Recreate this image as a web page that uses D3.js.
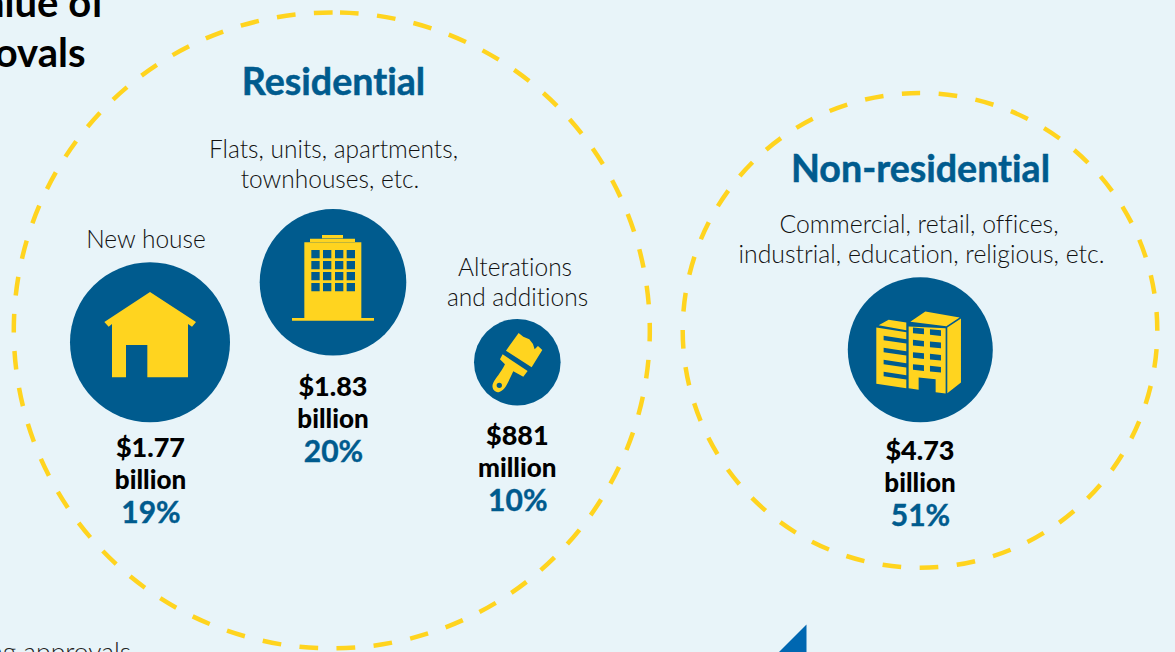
<!DOCTYPE html>
<html>
<head>
<meta charset="utf-8">
<script src="https://cdn.jsdelivr.net/npm/d3@7"></script>
<style>
	html, body { margin: 0; padding: 0; background: #E8F4F9; overflow: hidden; }
	text { font-family: Lato, "Noto Sans", sans-serif; font-variant-ligatures: none; }
</style>
</head>
<body>
<script>
const BLUE = '#005B8E'
const YELLOW = '#FFD41F'

// values
const categories = ['New house', 'Residential flats', 'Alterations and additions', 'Non-residential']
const amounts = ['$1.77', '$1.83', '$881', '$4.73']
const units = ['billion', 'billion', 'million', 'billion']
const shares = [19, 20, 10, 51]

// labels
const groupTitles = ['Residential', 'Non-residential']
const descriptions = [
	['New house'],
	['Flats, units, apartments,', 'townhouses, etc.'],
	['Alterations', 'and additions'],
	['Commercial, retail, offices,', 'industrial, education, religious, etc.'],
]

// layout, one entry per category
const bubbleX = [150, 333, 517.3, 920.3]
const bubbleY = [342.3, 282.3, 362.3, 349.8]
const bubbleR = [80, 73.3, 43.3, 72.5]
const descX = [[146], [333.5, 330], [515, 517.5], [919, 921.5]]
const descY = [248, 158, 276, 232.5]
const amountX = [150.5, 333, 517.3, 920]
const amountY = [457, 396, 445, 460]

// the left ring has a short gap at the top where its path closes
const ringCx = [331.8, 920]
const ringR = [318, 237.3]
const ringStart = [1.48, 0]
const ringDash = ['18.7 18.49', '18.7 18.57']
const ringOffset = [0, -18.7]
const titleX = [333.5, 920.5]
const titleY = [95, 182]

const svg = d3.select('body').append('svg')
	.attr('width', 1175)
	.attr('height', 652)

// dashed rings
svg.selectAll('.ring')
	.data(ringR)
	.enter()
		.append('circle')
		.attr('class', 'ring')
		.attr('transform', (d, i) => `rotate(${ringStart[i] - 90} ${ringCx[i]} 330.4)`)
		.attr('cx', (d, i) => ringCx[i])
		.attr('cy', 330.4)
		.attr('r', d => d)
		.attr('fill', 'none')
		.attr('stroke', YELLOW)
		.attr('stroke-width', 4.5)
		.attr('stroke-dasharray', (d, i) => ringDash[i])
		.attr('stroke-dashoffset', (d, i) => ringOffset[i])

svg.selectAll('.group-title')
	.data(groupTitles)
	.enter()
		.append('text')
		.attr('class', 'group-title')
		.attr('x', (d, i) => titleX[i])
		.attr('y', (d, i) => titleY[i])
		.attr('text-anchor', 'middle')
		.attr('fill', BLUE)
		.attr('stroke', BLUE)
		.attr('stroke-width', 0.5)
		.style('font-size', '37.6px')
		.style('font-weight', 700)
		.text(d => d)

// the icons are traced in zoomed pixels, 3x the page
const poly = pts => 'M' + pts.map(p => p.join(',')).join('L') + 'Z'

function rects(xs, ys, w, h) {
	let out = ''
	xs.forEach(x => ys.forEach(y => {
		out += poly([[x, y], [x + w, y], [x + w, y + h], [x, y + h]])
	}))
	return out
}

function skewRects(xs, ys, w, h, slope) {
	let out = ''
	xs.forEach(x => ys.forEach(y => {
		let yy = y + (x - 218) * slope
		out += poly([[x, yy], [x + w, yy + w * slope], [x + w, yy + w * slope + h], [x, yy + h]])
	}))
	return out
}

const icons = [
	{
		cx: 270, cy: 427,
		d: poly([[270, 276], [408, 366], [396, 380], [384, 372], [384, 532], [262, 532], [262, 435], [198, 435], [198, 532], [156, 532], [156, 372], [146, 380], [133, 366]]),
	},
	{
		cx: 819, cy: 247,
		d: poly([[786, 105], [849, 105], [849, 115], [786, 115]])
			+ poly([[750, 116], [885, 116], [885, 126], [750, 126]])
			+ poly([[696, 354], [789, 354], [789, 309], [849, 309], [849, 354], [942, 354], [942, 362], [696, 362]])
			+ poly([[733, 127], [904, 127], [904, 354], [849, 354], [849, 309], [789, 309], [789, 354], [733, 354]])
			+ rects([754, 789, 825, 860], [150, 183, 216, 249], 25, 25),
	},
	{
		cx: 172, cy: 157,
		d: poly([[176, 69], [190, 80], [208, 88], [219, 102], [224, 118], [234, 108], [247, 120], [215, 172], [138, 122]])
			+ 'M128,133L203,183L190,200L160,184L150,205C142,222 135,240 118,246C104,250 92,234 100,218C106,205 122,190 135,163L120,148Z'
			+ 'M126,226A8,8 0 1,0 110,226A8,8 0 1,0 126,226Z',
	},
	{
		cx: 240, cy: 237,
		d: poly([[115, 163], [145, 147], [198, 155], [198, 178]])
			+ poly([[108, 170], [198, 184], [198, 352], [108, 339]])
			+ poly([[130, 195], [198, 205], [198, 218], [130, 208]])
			+ poly([[130, 231], [198, 241], [198, 254], [130, 244]])
			+ poly([[130, 267], [198, 277], [198, 290], [130, 280]])
			+ poly([[130, 303], [198, 313], [198, 326], [130, 316]])
			+ poly([[210, 153], [255, 122], [358, 140], [318, 166]])
			+ poly([[205, 167], [316, 172], [316, 368], [286, 364], [286, 325], [235, 320], [235, 357], [205, 352]])
			+ skewRects([218, 269], [170, 207, 244, 280], 33, 17, 0.1)
			+ poly([[321, 170], [362, 143], [362, 335], [321, 367]]),
	},
]

// bubbles with their icons and labels
let bubble = svg.selectAll('.bubble')
	.data(categories)
	.enter()
		.append('g')
		.attr('class', 'bubble')

bubble.append('circle')
	.attr('cx', (d, i) => bubbleX[i])
	.attr('cy', (d, i) => bubbleY[i])
	.attr('r', (d, i) => bubbleR[i])
	.attr('fill', BLUE)

bubble.append('path')
	.attr('transform', (d, i) => `translate(${bubbleX[i]},${bubbleY[i]}) scale(${1 / 3}) translate(${-icons[i].cx},${-icons[i].cy})`)
	.attr('d', (d, i) => icons[i].d)
	.attr('fill', YELLOW)
	.attr('fill-rule', 'evenodd')

bubble.each(function (d, i) {
	let g = d3.select(this)

	descriptions[i].forEach((lineText, lineIndex) => {
		g.append('text')
			.attr('x', descX[i][lineIndex])
			.attr('y', descY[i] + 30 * lineIndex)
			.attr('text-anchor', 'middle')
			.attr('fill', '#111')
			.style('font-size', i === 3 ? '24.8px' : '24.5px')
			.style('font-weight', 300)
			.text(lineText)
	})

	g.append('text')
		.attr('x', amountX[i])
		.attr('y', amountY[i])
		.attr('text-anchor', 'middle')
		.attr('fill', '#000')
		.style('font-size', '27px')
		.style('font-weight', 900)
		.text(amounts[i])

	g.append('text')
		.attr('x', amountX[i])
		.attr('y', amountY[i] + 32)
		.attr('text-anchor', 'middle')
		.attr('fill', '#000')
		.style('font-size', '26px')
		.style('font-weight', 900)
		.text(units[i])

	g.append('text')
		.attr('x', amountX[i] + 0.5)
		.attr('y', amountY[i] + 66)
		.attr('text-anchor', 'middle')
		.attr('fill', BLUE)
		.style('font-size', '30px')
		.style('font-weight', 700)
		.attr('stroke', BLUE)
		.attr('stroke-width', 0.4)
		.text(shares[i] + '%')
})

// what is left of the page around the crop
svg.selectAll('.head')
	.data(['Value of', 'approvals'])
	.enter()
		.append('text')
		.attr('class', 'head')
		.attr('x', (d, i) => i === 0 ? 105 : 85.5)
		.attr('y', (d, i) => i === 0 ? 17 : 67)
		.attr('text-anchor', 'end')
		.attr('fill', '#000')
		.style('font-size', '40px')
		.style('font-weight', 700)
		.text(d => d)

svg.append('text')
	.attr('x', 131)
	.attr('y', 661)
	.attr('text-anchor', 'end')
	.attr('fill', '#222')
	.style('font-size', '26.4px')
	.style('font-weight', 300)
	.text('building approvals')

svg.append('path')
	.attr('d', poly([[806.5, 624.5], [806.5, 652], [779, 652]]))
	.attr('fill', '#0067B1')
</script>
</body>
</html>
